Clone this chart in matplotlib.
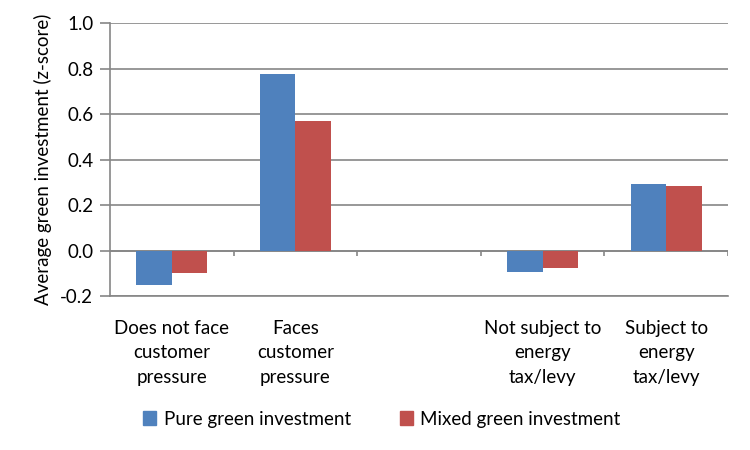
import matplotlib
matplotlib.use("Agg")
import matplotlib.pyplot as plt
import numpy as np
from matplotlib.patches import Patch

plt.rcParams['font.family'] = ['Lato', 'DejaVu Sans']

categories = ["Does not face\ncustomer\npressure", "Faces\ncustomer\npressure", "",
              "Not subject to\nenergy\ntax/levy", "Subject to\nenergy\ntax/levy"]
series_names = ["Pure green investment", "Mixed green investment"]
pure = [-0.15, 0.775, np.nan, -0.095, 0.295]
mixed = [-0.10, 0.568, np.nan, -0.078, 0.286]
yticks = [-0.2, 0.0, 0.2, 0.4, 0.6, 0.8, 1.0]
colors = ["#4F81BD", "#C0504D"]
grid_c = "#868686"
fs = 13.5

fig = plt.figure(figsize=(7.5, 4.5), dpi=100)
ax = fig.add_axes([110/750, 1-296/450, (728-110)/750, (296-23.3)/450])

x = np.arange(len(categories))
w = 1/3.5
ax.bar(x - w/2, pure, w, color=colors[0], zorder=3)
ax.bar(x + w/2, mixed, w, color=colors[1], zorder=3)

ax.set_xlim(-0.5, len(categories) - 0.5)
ax.set_ylim(-0.2, 1.0)
ax.set_yticks(yticks)
ax.set_yticklabels([f"{v:.1f}" for v in yticks])
ax.yaxis.grid(True, color=grid_c, linewidth=1.2, zorder=0)
ax.set_axisbelow(True)

for s in ['top', 'right']:
    ax.spines[s].set_visible(False)
ax.spines['left'].set_color(grid_c)
ax.spines['left'].set_linewidth(1.2)
ax.spines['bottom'].set_color(grid_c)
ax.spines['bottom'].set_linewidth(1.2)
ax.tick_params(axis='y', length=7, color=grid_c, width=1.2, labelsize=fs, pad=5)

# category axis at zero with boundary tick marks
ax.axhline(0, color=grid_c, linewidth=1.2, zorder=2)
bounds = np.arange(len(categories)) + 0.5
ax.vlines(bounds, 0, -0.022, color=grid_c, linewidth=1.2, zorder=2)

ax.set_xticks(x)
ax.set_xticklabels(categories, fontsize=fs, linespacing=1.55)
ax.tick_params(axis='x', length=0, pad=17)

ax.set_ylabel("Average green investment (z-score)", fontsize=fs, labelpad=6)

handles = [Patch(color=c) for c in colors]
fig.legend(handles, series_names, loc='center', bbox_to_anchor=(382/750, 1-419/450),
           ncol=2, frameon=False, fontsize=fs, handlelength=0.7, handleheight=0.7,
           handletextpad=0.4, columnspacing=2.6)

fig.savefig("out.png", dpi=100)
